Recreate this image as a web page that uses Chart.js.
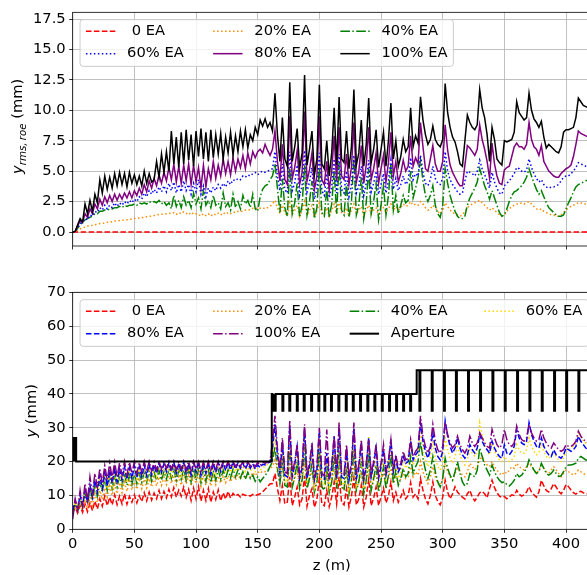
<!DOCTYPE html>
<html>
<head>
<meta charset="utf-8">
<script src="https://cdn.jsdelivr.net/npm/chart.js@4/dist/chart.umd.min.js"></script>
<style>
  html, body { margin: 0; padding: 0; background: #fff; overflow: hidden; }
  #wrap { position: relative; width: 587px; height: 575px; overflow: hidden; }
  canvas { position: absolute; left: 0; }
  #cTop { top: 0; }
  #cBot { top: 280px; }
</style>
</head>
<body>
<div id="wrap">
  <canvas id="cTop" width="600" height="260"></canvas>
  <canvas id="cBot" width="600" height="295"></canvas>
</div>
<script>
// ---------------------------------------------------------------------------
// Data
// ---------------------------------------------------------------------------
// longitudinal sampling positions z (m)
const zGrid = [
  0, 2, 4, 6, 8, 10, 12, 14, 16, 18,
  20, 22, 24, 26, 28, 30, 32, 34, 36, 38,
  40, 42, 44, 46, 48, 50, 52, 54, 56, 58,
  60, 62, 64, 66, 68, 70, 72, 74, 76, 78,
  80, 82, 84, 86, 88, 90, 92, 94, 96, 98,
  100, 102, 104, 106, 108, 110, 112, 114, 116, 118,
  120, 122, 124, 126, 128, 130, 132, 134, 136, 138,
  140, 142, 144, 146, 148, 150, 152, 154, 156, 158,
  160,
  162, 164, 166, 168, 170, 172, 174, 176, 178, 180,
  182, 184, 186, 188, 190, 192, 194, 196, 198, 200,
  202, 204, 206, 208, 210, 212, 214, 216, 218, 220,
  222, 224, 226, 228, 230, 232, 234, 236, 238, 240,
  242, 244, 246, 248, 250, 252, 254, 256, 258, 260,
  262, 264, 266, 268, 270, 272, 274, 276, 278, 280,
  282, 284, 286, 288, 290, 292, 294, 296, 298, 300,
  302, 304, 306, 308, 310, 312, 314, 316, 318, 320,
  322, 324, 326, 328, 330, 332, 334, 336, 338, 340,
  342, 344, 346, 348, 350, 352, 354, 356, 358, 360,
  362, 364, 366, 368, 370, 372, 374, 376, 378, 380,
  382, 384, 386, 388, 390, 392, 394, 396, 398, 400,
  402, 404, 406, 408, 410, 412, 414, 416, 418, 420
];

// rms vertical size (mm), upper panel
const zFlat = [0, 420];
const rms0 = [0, 0];

const rms20 = [
  0, 0.02, 0.15, 0.25, 0.35, 0.4, 0.5, 0.5, 0.55, 0.6,
  0.65, 0.7, 0.7, 0.75, 0.8, 0.8, 0.85, 0.9, 0.9, 0.95,
  0.95, 1.0, 1.0, 1.05, 1.05, 1.1, 1.1, 1.15, 1.2, 1.2,
  1.25, 1.3, 1.3, 1.35, 1.4, 1.45, 1.45, 1.5, 1.5, 1.55,
  1.5, 1.6, 1.45, 1.6, 1.5, 1.65, 1.5, 1.6, 1.4, 1.6,
  1.5, 1.45, 1.3, 1.5, 1.35, 1.5, 1.3, 1.5, 1.4, 1.55,
  1.4, 1.6, 1.45, 1.6, 1.5, 1.65, 1.6, 1.7, 1.65, 1.75,
  1.8, 1.85, 1.8, 1.95, 1.9, 2.0, 1.95, 2.0, 1.9, 2.0,
  2.1,
  2.3, 2.6, 2.0, 1.5, 2.2, 1.6, 1.3, 2.4, 1.5, 1.8,
  2.2, 1.3, 1.8, 2.5, 1.4, 1.8, 2.2, 1.2, 1.7, 2.4,
  1.5, 1.4, 2.0, 1.3, 1.8, 2.3, 1.5, 2.4, 1.6, 1.5,
  2.0, 1.3, 1.8, 2.3, 1.5, 1.8, 2.1, 1.4, 1.8, 2.2,
  1.5, 1.8, 2.0, 1.4, 1.8, 2.0, 1.6, 1.9, 2.3, 1.8,
  2.1, 1.8, 2.0, 2.3, 2.1, 2.2, 2.5, 2.2, 2.3, 2.2,
  2.5, 2.3, 2.0, 1.8, 1.9, 2.2, 2.0, 1.7, 1.5, 1.8,
  2.4, 2.1, 1.8, 1.6, 1.5, 1.4, 1.3, 1.4, 1.7, 2.0,
  2.2, 2.3, 2.4, 2.5, 2.6, 2.4, 2.2, 2.0, 1.8, 2.0,
  1.8, 1.6, 1.4, 1.3, 1.4, 1.7, 1.9, 2.1, 2.2, 2.3,
  2.3, 2.4, 2.3, 2.4, 2.5, 2.3, 2.1, 1.9, 1.8, 1.9,
  1.7, 1.6, 1.5, 1.4, 1.4, 1.3, 1.3, 1.4, 1.6, 1.8,
  2.0, 2.1, 2.2, 2.3, 2.4, 2.4, 2.3, 2.3, 2.3, 2.3
];

const rms40 = [
  0, 0.05, 0.3, 0.6, 0.8, 1.0, 1.1, 1.2, 1.3, 1.5,
  1.5, 1.7, 1.7, 1.8, 1.8, 1.9, 1.9, 2.0, 2.0, 2.1,
  2.0, 2.2, 2.1, 2.2, 2.2, 2.3, 2.2, 2.4, 2.3, 2.4,
  2.3, 2.5, 2.4, 2.5, 2.4, 2.6, 2.3, 2.5, 2.2, 2.4,
  1.9, 3.0, 2.1, 2.6, 2.0, 2.9, 2.2, 2.6, 2.0, 3.2,
  2.3, 2.8, 1.9, 3.4, 2.2, 2.6, 2.0, 3.0, 2.2, 2.4,
  1.9, 3.2, 2.1, 2.4, 1.8, 3.1, 2.0, 2.5, 1.9, 3.0,
  2.3, 2.6, 2.0, 3.1, 1.9, 1.7, 2.9, 3.5, 3.8, 3.9,
  4.3,
  4.6, 5.6, 3.6, 1.6, 4.4, 2.0, 1.3, 5.3, 1.5, 2.4,
  4.0, 1.2, 2.2, 5.5, 1.4, 2.5, 4.2, 1.1, 2.0, 5.3,
  1.6, 1.3, 3.6, 1.2, 2.3, 5.0, 1.5, 5.7, 1.8, 1.4,
  4.0, 1.2, 2.5, 6.0, 1.4, 2.2, 4.5, 1.1, 2.4, 5.2,
  1.5, 2.5, 4.0, 1.0, 2.2, 3.8, 1.4, 3.0, 5.6, 1.8,
  3.0, 1.5, 2.2, 3.0, 2.4, 2.6, 5.0, 2.8, 3.6, 4.5,
  5.9, 4.2, 3.0, 2.5, 3.0, 3.8, 2.2, 1.5, 1.2, 2.2,
  5.2, 4.0, 3.0, 2.3, 1.7, 1.3, 1.1, 1.1, 1.3, 2.2,
  2.8, 3.2, 3.6, 4.1, 5.2, 4.5, 3.8, 3.3, 2.7, 3.4,
  2.8, 2.2, 1.6, 1.3, 1.4, 1.9, 2.5, 3.0, 3.3, 3.4,
  3.6, 3.8, 4.1, 4.5, 5.2, 4.6, 4.0, 3.5, 3.1, 3.4,
  2.9, 2.4, 2.0, 1.8, 1.6, 1.4, 1.3, 1.3, 1.4, 1.9,
  2.4, 2.8, 3.3, 3.7, 3.9, 4.0, 4.1, 4.2, 4.3, 4.4
];

const rms60 = [
  0, 0.05, 0.4, 0.7, 0.8, 1.1, 1.0, 1.4, 1.3, 1.7,
  1.6, 2.0, 1.8, 2.2, 1.9, 2.2, 2.0, 2.4, 2.1, 2.4,
  2.2, 2.5, 2.3, 2.6, 2.4, 2.7, 2.5, 2.9, 2.7, 3.2,
  2.9, 3.4, 3.1, 3.5, 3.2, 3.7, 3.3, 3.8, 3.3, 4.0,
  3.4, 4.1, 3.2, 3.9, 3.3, 4.2, 3.4, 3.9, 3.1, 4.0,
  3.3, 4.3, 3.1, 3.8, 2.9, 3.6, 3.2, 3.7, 3.4, 3.9,
  3.6, 4.0, 3.7, 4.2, 3.9, 4.3, 4.2, 4.4, 4.3, 4.6,
  4.5, 4.7, 4.6, 4.8, 4.9, 4.7, 4.9, 5.0, 4.9, 5.0,
  5.1,
  5.2, 6.6, 4.6, 3.4, 5.6, 3.5, 3.2, 6.6, 3.4, 4.0,
  5.5, 3.0, 3.8, 6.7, 3.3, 4.1, 5.3, 2.7, 3.5, 6.5,
  3.4, 3.0, 4.8, 2.8, 3.7, 6.0, 3.2, 6.4, 3.5, 3.2,
  5.0, 2.9, 3.9, 6.3, 3.2, 3.8, 5.4, 3.0, 4.0, 5.9,
  3.3, 4.0, 5.0, 3.1, 3.9, 4.8, 3.2, 4.2, 5.9, 3.5,
  4.4, 3.4, 3.9, 4.6, 3.9, 4.2, 6.1, 4.3, 4.8, 4.6,
  6.3, 4.9, 4.0, 3.8, 4.3, 5.4, 4.4, 4.0, 3.9, 4.4,
  6.6, 5.0, 4.3, 3.9, 3.6, 3.3, 3.1, 3.2, 4.2, 5.0,
  4.9, 4.8, 4.6, 5.0, 5.9, 5.2, 4.7, 4.2, 3.6, 4.9,
  4.1, 3.6, 3.2, 3.1, 3.8, 4.0, 4.2, 4.5, 4.8, 5.3,
  5.2, 5.0, 4.9, 5.1, 6.0, 5.3, 4.8, 4.4, 4.1, 4.3,
  3.9, 3.7, 3.6, 3.7, 3.7, 3.8, 3.9, 4.2, 4.5, 4.6,
  4.6, 4.8, 5.0, 5.3, 5.7, 5.6, 5.5, 5.4, 5.3, 5.3
];

const rms80 = [
  0, 0.05, 0.5, 0.9, 0.8, 1.5, 1.2, 1.9, 1.5, 2.3,
  1.9, 2.7, 2.2, 2.9, 2.4, 3.0, 2.5, 3.1, 2.6, 3.1,
  2.7, 3.2, 2.8, 3.3, 2.8, 3.4, 3.0, 3.6, 3.1, 3.9,
  3.3, 4.2, 3.6, 4.4, 3.8, 4.7, 4.0, 4.9, 4.2, 5.3,
  4.3, 5.6, 4.1, 5.4, 4.0, 5.5, 4.2, 5.6, 3.9, 5.5,
  4.1, 5.3, 3.6, 5.5, 3.7, 5.2, 4.3, 5.8, 4.4, 5.5,
  4.6, 6.0, 4.8, 5.8, 4.7, 6.1, 5.0, 6.0, 5.3, 6.3,
  5.2, 6.5, 5.6, 6.6, 6.1, 6.6, 6.8, 6.5, 7.2, 6.7,
  6.3,
  6.8, 8.3, 5.8, 4.2, 7.2, 4.3, 3.9, 9.5, 4.4, 5.3,
  6.7, 3.9, 4.9, 9.9, 4.2, 5.1, 6.5, 3.5, 4.6, 9.5,
  4.3, 3.9, 5.8, 3.4, 5.0, 7.9, 4.2, 8.6, 4.6, 4.3,
  6.4, 3.9, 5.3, 9.0, 4.1, 5.0, 7.1, 4.0, 5.5, 8.6,
  4.3, 5.2, 6.5, 4.0, 5.2, 6.3, 4.1, 5.7, 8.2, 4.6,
  5.8, 4.1, 4.8, 5.9, 5.0, 5.4, 7.9, 5.4, 6.1, 5.6,
  9.0, 7.0, 5.2, 5.0, 6.0, 7.1, 5.6, 5.0, 5.0, 5.8,
  8.8, 6.7, 5.5, 4.9, 4.5, 4.1, 3.8, 3.8, 5.5, 7.1,
  6.9, 6.6, 6.3, 6.8, 8.8, 7.6, 6.8, 5.8, 4.4, 7.3,
  5.6, 4.6, 4.0, 3.9, 5.1, 5.3, 5.4, 6.2, 7.0, 7.3,
  7.0, 7.0, 6.8, 7.2, 9.0, 7.6, 7.0, 6.8, 6.3, 7.1,
  5.8, 5.4, 5.0, 4.8, 4.6, 4.5, 4.5, 4.8, 5.0, 5.2,
  5.3, 5.5, 6.2, 7.2, 8.3, 8.1, 8.0, 7.9, 7.8, 7.8
];

const rms100 = [
  0, 0.05, 0.6, 1.1, 0.8, 2.3, 1.5, 2.6, 1.7, 3.1,
  2.4, 4.3, 3.2, 4.6, 3.5, 4.5, 3.6, 4.8, 3.8, 4.9,
  3.9, 4.8, 3.7, 4.9, 4.0, 4.7, 3.9, 4.6, 3.8, 5.0,
  4.0, 4.8, 4.1, 4.3, 5.8, 4.5, 6.4, 4.9, 6.6, 5.0,
  8.3, 5.6, 7.8, 5.3, 8.2, 5.6, 8.4, 5.9, 8.0, 5.4,
  8.3, 6.2, 8.5, 6.0, 8.2, 5.8, 8.4, 6.1, 8.0, 6.4,
  8.1, 6.0, 7.8, 6.5, 8.2, 6.3, 7.9, 6.6, 8.3, 7.0,
  8.4, 6.9, 8.0, 7.5, 8.6, 8.0, 9.2, 8.7, 9.3, 8.6,
  9.0,
  8.3, 11.4, 8.0, 5.8, 9.4, 6.0, 5.4, 12.3, 5.8, 7.0,
  8.5, 5.2, 6.5, 12.9, 5.5, 6.8, 8.3, 4.7, 6.0, 12.1,
  5.6, 5.2, 7.5, 4.6, 6.5, 10.2, 5.5, 11.1, 6.0, 5.7,
  8.3, 5.2, 7.0, 11.7, 5.5, 6.5, 9.2, 5.4, 7.2, 11.0,
  5.7, 6.8, 8.4, 5.3, 6.8, 8.2, 5.4, 7.5, 10.6, 6.0,
  7.5, 5.4, 6.2, 7.6, 6.6, 7.0, 10.2, 7.0, 7.9, 7.3,
  11.1, 9.2, 8.0, 7.2, 7.6, 8.7, 7.6, 7.2, 7.0, 7.6,
  12.2, 9.8, 8.6, 7.8, 7.4, 6.6, 5.6, 5.4, 7.5, 9.6,
  9.0, 8.6, 8.4, 8.8, 11.7, 10.2, 9.4, 8.0, 5.8, 8.6,
  7.6, 6.0, 5.7, 5.5, 7.5, 7.4, 7.5, 7.6, 8.2, 10.7,
  9.8, 9.5, 9.2, 9.4, 11.4, 10.0, 9.3, 9.0, 8.6, 9.1,
  7.8, 6.9, 7.2, 7.0, 6.8, 6.6, 6.5, 7.0, 8.2, 8.4,
  8.4, 8.5, 8.6, 9.4, 11.0, 10.7, 10.4, 10.3, 10.2, 10.1
];

// maximum vertical excursion (mm), lower panel
const max0 = [
  5.0, 6.5, 4.8, 7.0, 5.0, 7.5, 5.2, 7.8, 5.5, 8.3,
  6.0, 9.0, 6.8, 9.8, 7.0, 9.5, 7.2, 10.2, 7.3, 9.8,
  7.5, 10.5, 7.4, 9.7, 8.0, 10.2, 7.8, 9.9, 8.2, 10.8,
  8.4, 11.0, 8.6, 10.7, 9.0, 11.5, 9.0, 11.2, 9.3, 11.8,
  9.6, 12.3, 9.5, 11.6, 9.8, 12.5, 9.4, 11.8, 8.5, 12.2,
  9.0, 12.6, 8.3, 11.5, 8.5, 12.0, 8.0, 11.0, 8.8, 11.6,
  8.4, 10.8, 8.9, 11.2, 9.2, 10.6, 9.8, 10.3, 9.5, 10.4,
  10.0, 10.2, 9.8, 10.3, 10.0, 10.2, 10.5, 11.0, 11.8, 12.6,
  13.4,
  13.5, 16.5, 12.0, 8.5, 13.0, 7.5, 8.0, 15.5, 7.0, 9.5,
  12.5, 7.2, 9.0, 15.8, 6.8, 10.0, 12.0, 6.5, 8.8, 15.0,
  7.5, 7.0, 11.5, 6.7, 9.5, 14.0, 7.5, 15.5, 8.0, 7.2,
  12.0, 6.6, 9.8, 15.2, 7.2, 9.0, 13.0, 6.6, 9.5, 14.8,
  7.0, 9.2, 12.5, 7.0, 9.5, 12.2, 7.8, 9.8, 14.0, 8.5,
  11.0, 8.0, 9.5, 11.5, 9.0, 10.0, 13.8, 9.5, 10.5, 9.0,
  15.0, 11.5, 9.0, 7.5, 10.0, 14.0, 10.0, 8.2, 7.2, 9.5,
  14.5, 11.0, 9.0, 10.5, 12.6, 11.0, 10.2, 9.5, 8.9, 10.5,
  11.5, 9.5, 8.4, 9.5, 10.8, 11.2, 10.5, 9.3, 12.0, 14.5,
  12.3, 10.8, 9.8, 9.4, 9.7, 9.0, 9.5, 10.2, 10.0, 11.5,
  10.4, 9.8, 10.2, 11.0, 12.6, 11.0, 10.2, 9.5, 11.0, 14.5,
  12.8, 11.5, 11.0, 12.0, 13.5, 12.5, 11.2, 10.5, 11.5, 13.2,
  12.6, 11.6, 10.8, 10.4, 11.0, 11.2, 10.8, 10.5, 10.4, 10.5
];

const max20 = [
  5.5, 7.0, 5.0, 7.8, 5.6, 8.8, 6.0, 9.5, 7.0, 10.5,
  8.0, 11.5, 8.8, 12.2, 9.5, 12.8, 10.0, 13.2, 10.5, 13.8,
  10.8, 14.0, 11.2, 14.2, 11.5, 14.0, 11.8, 14.5, 12.0, 14.8,
  12.2, 15.0, 12.5, 15.3, 12.8, 15.5, 13.0, 15.4, 13.2, 15.8,
  13.5, 16.0, 13.2, 15.6, 13.0, 16.2, 13.4, 15.8, 12.8, 16.0,
  13.5, 16.3, 12.7, 15.8, 13.0, 16.0, 12.8, 15.5, 13.2, 15.8,
  13.6, 15.6, 13.8, 15.9, 14.0, 16.0, 14.5, 16.2, 14.8, 16.4,
  15.0, 16.6, 15.4, 16.8, 15.8, 17.0, 16.5, 17.2, 17.0, 17.6,
  18.0,
  18.5, 20.5, 17.0, 14.0, 18.0, 13.5, 13.0, 19.8, 12.8, 15.0,
  17.5, 12.5, 14.5, 19.5, 12.3, 15.0, 17.0, 11.8, 14.0, 19.0,
  12.5, 12.0, 16.0, 11.5, 14.0, 18.0, 12.5, 19.0, 13.0, 12.0,
  16.5, 11.5, 14.5, 19.0, 12.0, 14.0, 17.0, 11.5, 14.2, 18.5,
  12.0, 14.5, 16.5, 12.0, 14.5, 16.5, 12.8, 15.0, 18.0, 13.5,
  16.0, 13.5, 15.0, 16.5, 15.0, 15.5, 18.5, 15.5, 17.0, 16.0,
  20.0, 17.0, 15.0, 13.5, 15.5, 18.5, 15.5, 13.5, 13.0, 15.0,
  19.5, 17.0, 15.5, 14.5, 16.5, 18.0, 17.2, 16.0, 15.5, 17.0,
  19.5, 18.5, 17.6, 18.5, 20.5, 21.5, 20.0, 19.0, 18.5, 20.0,
  18.5, 17.5, 16.5, 16.0, 17.0, 16.5, 17.5, 18.5, 18.0, 19.5,
  18.5, 18.0, 17.5, 18.5, 19.5, 18.5, 17.5, 16.5, 17.5, 19.0,
  18.0, 17.0, 16.5, 17.5, 18.5, 17.5, 16.5, 15.5, 16.5, 17.5,
  17.0, 16.5, 16.0, 16.5, 17.5, 17.0, 16.5, 16.0, 16.0, 16.2
];

const max40 = [
  4.5, 7.5, 5.5, 9.0, 6.5, 10.5, 7.5, 12.0, 8.5, 13.0,
  9.8, 14.0, 11.0, 15.0, 11.5, 15.5, 12.0, 16.0, 12.5, 15.8,
  12.8, 16.5, 13.0, 16.0, 13.2, 16.8, 13.5, 16.5, 13.8, 17.0,
  14.0, 17.2, 14.2, 17.0, 14.5, 17.5, 14.5, 17.2, 14.8, 17.8,
  15.0, 18.0, 14.5, 17.5, 14.8, 18.2, 14.5, 17.8, 14.0, 18.0,
  14.5, 18.3, 13.8, 17.8, 14.2, 18.0, 13.8, 17.5, 14.5, 17.8,
  14.8, 17.5, 15.0, 17.6, 15.2, 17.8, 15.5, 17.5, 15.2, 17.0,
  14.8, 16.8, 15.0, 16.0, 14.2, 15.5, 14.0, 15.0, 15.8, 17.0,
  18.5,
  20.0, 24.5, 18.0, 13.5, 20.5, 13.0, 12.5, 24.0, 12.5, 15.5,
  20.0, 12.0, 14.5, 24.5, 12.0, 15.0, 19.5, 11.0, 14.0, 23.5,
  12.5, 11.5, 18.0, 10.8, 14.0, 22.0, 12.0, 23.0, 12.5, 11.5,
  18.5, 10.5, 14.5, 23.5, 11.5, 14.0, 20.0, 10.5, 14.5, 22.5,
  11.5, 15.0, 19.0, 11.0, 14.5, 18.5, 12.0, 16.0, 22.0, 13.5,
  17.5, 13.0, 15.0, 18.0, 15.5, 16.5, 21.5, 16.5, 18.5, 20.0,
  26.0, 21.0, 17.5, 15.0, 17.5, 21.5, 17.0, 14.0, 12.5, 15.0,
  21.0, 18.0, 16.0, 14.5, 17.0, 20.0, 16.5, 14.0, 12.8, 13.5,
  16.5, 16.0, 15.5, 17.5, 24.0, 21.5, 19.0, 17.5, 16.0, 19.0,
  17.0, 15.5, 14.5, 13.8, 14.0, 13.2, 12.8, 13.5, 14.5, 16.5,
  15.5, 16.0, 17.0, 18.0, 20.5, 19.0, 17.5, 16.5, 17.0, 19.5,
  18.0, 16.5, 16.0, 16.5, 17.5, 16.5, 15.6, 15.8, 17.0, 18.5,
  19.0, 19.0, 19.2, 19.5, 21.0, 21.5, 21.0, 20.5, 20.5, 21.0
];

const max60 = [
  5.0, 8.0, 6.0, 9.5, 7.0, 11.0, 8.0, 12.5, 9.0, 13.8,
  10.5, 15.0, 11.5, 15.8, 12.0, 16.2, 12.8, 16.8, 13.2, 16.5,
  13.5, 17.2, 13.8, 16.8, 14.0, 17.5, 14.2, 17.2, 14.5, 17.8,
  14.8, 18.0, 15.0, 17.8, 15.5, 18.4, 15.8, 18.0, 16.0, 18.6,
  16.0, 18.8, 15.5, 18.2, 15.8, 18.8, 15.5, 18.5, 15.2, 18.8,
  15.8, 19.0, 15.0, 18.5, 15.5, 18.8, 15.2, 18.4, 15.8, 18.8,
  16.2, 18.6, 16.5, 18.8, 16.8, 19.0, 17.0, 18.8, 17.2, 18.5,
  17.0, 18.4, 17.2, 18.2, 17.0, 18.0, 17.5, 18.2, 18.5, 19.2,
  19.8,
  22.0, 27.0, 20.0, 15.0, 23.0, 14.5, 14.0, 27.0, 14.0, 17.5,
  22.5, 13.5, 16.5, 27.5, 13.5, 17.0, 22.0, 12.5, 16.0, 26.5,
  14.0, 13.0, 20.5, 12.5, 16.0, 25.0, 13.5, 26.0, 14.0, 13.0,
  21.0, 12.0, 16.5, 26.0, 13.0, 16.0, 22.5, 12.0, 16.5, 27.5,
  13.5, 17.0, 21.5, 13.0, 16.5, 21.0, 14.0, 18.0, 25.0, 15.5,
  20.0, 15.0, 17.0, 20.5, 18.0, 19.0, 25.5, 19.0, 21.0, 22.0,
  29.0, 24.0, 20.5, 18.5, 21.0, 26.0, 21.0, 18.5, 17.5, 20.0,
  27.0, 23.5, 21.0, 19.5, 21.5, 25.0, 22.0, 20.0, 19.0, 20.5,
  23.5, 22.5, 21.5, 23.0, 31.5, 28.0, 25.0, 23.5, 22.0, 25.5,
  23.0, 21.5, 20.5, 20.0, 21.5, 20.5, 20.0, 20.5, 21.5, 25.0,
  23.5, 22.5, 22.5, 23.5, 27.0, 24.5, 23.0, 22.0, 22.5, 25.5,
  23.0, 21.5, 21.0, 21.5, 23.0, 21.5, 20.5, 20.0, 21.0, 23.0,
  23.5, 24.0, 24.5, 25.5, 28.5, 27.0, 26.0, 25.5, 25.0, 25.0
];

const max80 = [
  5.5, 8.5, 6.0, 10.0, 7.0, 11.5, 8.0, 13.0, 9.5, 14.5,
  11.0, 16.0, 12.0, 16.8, 12.8, 17.5, 13.5, 18.0, 14.0, 17.8,
  14.5, 18.5, 14.8, 18.2, 15.0, 18.8, 15.2, 18.5, 15.5, 19.0,
  15.8, 19.2, 16.0, 19.0, 16.5, 19.5, 16.8, 19.3, 17.0, 19.6,
  17.0, 19.8, 16.5, 19.4, 16.8, 19.8, 16.5, 19.5, 16.0, 19.8,
  16.8, 19.9, 16.0, 19.5, 16.5, 19.8, 16.2, 19.5, 16.8, 19.8,
  17.0, 19.6, 17.3, 19.8, 17.5, 19.9, 17.8, 19.6, 18.0, 19.5,
  17.8, 19.4, 18.0, 19.3, 17.8, 19.0, 18.2, 19.2, 19.0, 19.6,
  19.9,
  24.0, 31.0, 22.0, 16.5, 25.5, 16.0, 15.5, 30.5, 15.5, 19.0,
  24.5, 15.0, 18.0, 29.5, 15.0, 18.5, 24.0, 14.5, 17.5, 29.0,
  15.5, 14.8, 22.5, 14.5, 18.0, 27.5, 15.0, 30.0, 15.5, 15.0,
  23.5, 14.5, 18.5, 30.0, 15.0, 18.0, 25.5, 14.5, 18.5, 27.0,
  15.5, 19.0, 24.0, 15.0, 18.5, 23.5, 16.0, 19.5, 26.5, 17.0,
  21.0, 17.0, 18.5, 21.5, 19.5, 20.0, 26.0, 20.5, 22.0, 23.0,
  31.5, 26.0, 23.0, 21.0, 23.5, 28.5, 24.0, 21.5, 20.5, 23.0,
  32.0, 27.5, 24.5, 22.5, 24.0, 27.0, 24.0, 22.0, 21.0, 22.0,
  25.0, 23.5, 22.5, 24.0, 28.0, 26.0, 24.5, 23.5, 22.5, 26.0,
  24.0, 22.5, 21.5, 21.0, 25.0, 22.5, 22.0, 23.0, 24.5, 29.5,
  27.0, 25.5, 25.0, 26.0, 31.5, 28.0, 26.0, 24.5, 24.0, 27.0,
  24.5, 23.0, 22.0, 21.5, 23.5, 22.0, 21.5, 21.0, 22.0, 24.0,
  23.5, 23.0, 23.5, 24.5, 27.5, 26.0, 25.0, 24.0, 23.5, 23.5
];

const max100 = [
  3.0, 9.0, 5.5, 11.5, 7.0, 13.5, 8.5, 15.5, 10.5, 16.5,
  12.5, 18.0, 13.5, 18.8, 14.5, 19.5, 15.0, 19.8, 15.5, 19.6,
  16.0, 20.0, 16.0, 19.8, 16.5, 20.0, 16.5, 19.8, 16.8, 20.0,
  17.0, 20.0, 17.2, 19.9, 17.5, 20.0, 17.8, 20.0, 18.0, 20.0,
  17.8, 20.0, 17.5, 19.9, 17.8, 20.0, 17.5, 20.0, 17.2, 20.0,
  17.8, 20.0, 17.2, 19.9, 17.5, 20.0, 17.4, 20.0, 17.8, 20.0,
  18.0, 20.0, 18.2, 20.0, 18.4, 20.0, 18.5, 20.0, 18.6, 20.0,
  18.5, 20.0, 18.6, 19.9, 18.5, 19.8, 18.8, 19.9, 19.5, 19.9,
  20.0,
  26.0, 33.5, 24.0, 17.5, 27.0, 17.0, 16.5, 32.0, 16.5, 20.0,
  25.0, 16.0, 19.0, 31.0, 16.0, 19.5, 25.5, 15.5, 18.5, 30.0,
  16.5, 15.8, 29.5, 15.5, 19.0, 27.5, 16.0, 31.5, 16.5, 16.0,
  25.0, 15.5, 19.5, 31.5, 16.0, 19.0, 26.5, 15.5, 19.5, 26.5,
  16.5, 20.0, 25.0, 16.0, 19.5, 25.0, 17.0, 20.5, 26.5, 18.0,
  22.0, 18.0, 19.5, 23.0, 20.5, 21.0, 26.5, 21.5, 23.0, 24.0,
  33.5, 27.5, 24.5, 22.5, 24.5, 31.0, 26.0, 23.5, 22.5, 24.5,
  31.5, 28.0, 25.5, 24.0, 25.0, 27.5, 25.0, 23.5, 22.5, 24.0,
  27.5, 25.5, 24.5, 25.5, 28.5, 27.0, 25.5, 24.5, 24.0, 29.5,
  27.0, 25.0, 24.0, 25.0, 29.5, 26.5, 25.0, 24.5, 25.5, 30.5,
  28.0, 26.5, 26.0, 27.0, 31.0, 28.5, 27.0, 26.0, 26.5, 29.5,
  27.0, 25.5, 24.5, 24.0, 25.5, 24.5, 23.5, 23.0, 23.5, 25.0,
  24.5, 24.5, 25.0, 26.0, 29.0, 27.5, 26.5, 26.0, 25.5, 25.5
];

// beam-pipe aperture (mm): entrance slit, then three plateaus with
// narrow restrictions at the lens positions
const apEntranceZ = [0, 0.8, 1.6, 2.4];
const apEntranceTop = 27;
const apLow = 20;
const apStep1Z = 161.4;
const apMid = 40;
const apDipsMid = [161.8, 162.8, 163.8, 170.0, 175.6, 181.7, 187.3, 193.3, 199.2, 204.0,
                   209.4, 215.4, 221.4, 227.1, 233.0, 238.9, 244.6, 250.6, 256.5, 262.2,
                   267.9, 273.6];
const apStep2Z = 278.9;
const apHigh = 47;
const apDipsHigh = [281.1, 291.1, 301.0, 310.7, 320.5, 330.3, 340.3, 350.3, 360.3, 370.3,
                    380.3, 390.3, 400.1, 410.0];
const apDipFloor = 35;
const apEnd = 420;

// axis ticks
const zTicks = [0, 50, 100, 150, 200, 250, 300, 350, 400];
const rmsTicks = [0, 2.5, 5, 7.5, 10, 12.5, 15, 17.5];
const yTicks = [0, 10, 20, 30, 40, 50, 60, 70];

// ---------------------------------------------------------------------------
// Styling helpers
// ---------------------------------------------------------------------------
const FONT = "'DejaVu Sans', sans-serif";
const FS = 14.7;
const DASH = {
  solid: [],
  dashed: [5.55, 2.4],
  dotted: [1.5, 2.475],
  dashdot: [9.6, 2.4, 1.5, 2.4]
};
const C = {
  red: '#ff0000', orange: '#ff8c00', green: '#008000', gold: '#ffd700',
  blue: '#0000ff', purple: '#800080', black: '#000000'
};

function pts(xs, ys) { return ys.map((y, i) => ({ x: xs[i], y: y })); }

function apertureTrace() {
  const p = [{ x: 0, y: apLow }];
  apEntranceZ.forEach(z => {
    p.push({ x: z, y: apLow }, { x: z, y: apEntranceTop }, { x: z + 0.4, y: apEntranceTop }, { x: z + 0.4, y: apLow });
  });
  p.push({ x: apStep1Z, y: apLow }, { x: apStep1Z, y: apMid });
  const w = 0.8;
  apDipsMid.forEach(z => {
    p.push({ x: z, y: apMid }, { x: z, y: apDipFloor }, { x: z + w, y: apDipFloor }, { x: z + w, y: apMid });
  });
  p.push({ x: apStep2Z, y: apMid }, { x: apStep2Z, y: apHigh });
  apDipsHigh.forEach(z => {
    p.push({ x: z, y: apHigh }, { x: z, y: apDipFloor }, { x: z + w, y: apDipFloor }, { x: z + w, y: apHigh });
  });
  p.push({ x: apEnd, y: apHigh });
  return p;
}

function line(label, data, color, style, width, order) {
  return {
    label: label, data: data, borderColor: color, backgroundColor: color,
    borderWidth: width, borderDash: DASH[style], borderCapStyle: 'butt',
    borderJoinStyle: 'miter', pointRadius: 0, fill: false, tension: 0, order: order,
    _style: style
  };
}

// frame (spines) over the data
const spines = {
  id: 'spines',
  afterDatasetsDraw(chart) {
    const ctx = chart.ctx, a = chart.chartArea;
    ctx.save();
    ctx.strokeStyle = '#000';
    ctx.lineWidth = 0.8;
    ctx.strokeRect(a.left, a.top, a.right - a.left, a.bottom - a.top);
    ctx.restore();
  }
};

// boxed legend laid out in columns
const boxLegend = {
  id: 'boxLegend',
  afterDraw(chart, args, opts) {
    if (!opts || !opts.columns) return;
    const ctx = chart.ctx, a = chart.chartArea;
    ctx.save();
    ctx.font = FS + 'px ' + FONT;
    const pad = 0.4 * FS, hl = 2 * FS, htp = 0.8 * FS, cs = 2 * FS;
    const colW = opts.columns.map(col => hl + htp + Math.max.apply(null, col.map(it => ctx.measureText(it.label).width)));
    const w = 2 * pad + colW.reduce((s, v) => s + v, 0) + cs * (colW.length - 1);
    const h = 46.7;
    const x0 = a.left + 0.5 * FS, y0 = a.top + 0.5 * FS;
    ctx.beginPath();
    ctx.roundRect(x0, y0, w, h, 3);
    ctx.fillStyle = 'rgba(255,255,255,0.8)';
    ctx.fill();
    ctx.strokeStyle = '#cccccc';
    ctx.lineWidth = 1;
    ctx.stroke();
    let cx = x0 + pad;
    opts.columns.forEach((col, ci) => {
      col.forEach((it, ri) => {
        const cy = y0 + 11.7 + ri * 22.3;
        ctx.beginPath();
        ctx.setLineDash(DASH[it.style]);
        ctx.lineCap = 'butt';
        ctx.strokeStyle = it.color;
        ctx.lineWidth = it.width || 1.5;
        ctx.moveTo(cx, cy);
        ctx.lineTo(cx + hl, cy);
        ctx.stroke();
        ctx.setLineDash([]);
        ctx.fillStyle = '#000';
        ctx.textBaseline = 'middle';
        ctx.textAlign = 'left';
        ctx.fillText(it.label, cx + hl + htp, cy);
      });
      cx += colW[ci] + cs;
    });
    ctx.restore();
  }
};

// axis titles (supports an italic symbol with an optional subscript)
const axisTitles = {
  id: 'axisTitles',
  afterDraw(chart, args, opts) {
    const ctx = chart.ctx;
    ctx.save();
    ctx.fillStyle = '#000';
    ctx.textBaseline = 'alphabetic';
    ctx.textAlign = 'left';
    (opts.items || []).forEach(t => {
      const parts = t.parts;
      const widths = parts.map(p => { ctx.font = p.font; return ctx.measureText(p.text).width; });
      const total = widths.reduce((s, v) => s + v, 0);
      ctx.save();
      ctx.translate(t.x, t.y);
      if (t.rotate) ctx.rotate(-Math.PI / 2);
      let x = -total / 2;
      parts.forEach((p, i) => {
        ctx.font = p.font;
        ctx.fillText(p.text, x, p.dy || 0);
        x += widths[i];
      });
      ctx.restore();
    });
    ctx.restore();
  }
};

const gridOpts = { color: '#b0b0b0', lineWidth: 0.8, tickColor: '#000', tickLength: 3.5, tickWidth: 0.8, drawTicks: true };
const tickFont = { family: FONT, size: FS };

// ---------------------------------------------------------------------------
// Upper panel: rms size
// ---------------------------------------------------------------------------
new Chart(document.getElementById('cTop'), {
  type: 'line',
  data: {
    datasets: [
      line(' 0 EA', pts(zFlat, rms0), C.red, 'dashed', 1.5, 6),
      line('20% EA', pts(zGrid, rms20), C.orange, 'dotted', 1.5, 5),
      line('40% EA', pts(zGrid, rms40), C.green, 'dashdot', 1.5, 4),
      line('60% EA', pts(zGrid, rms60), C.blue, 'dotted', 1.5, 3),
      line('80% EA', pts(zGrid, rms80), C.purple, 'solid', 1.5, 2),
      line('100% EA', pts(zGrid, rms100), C.black, 'solid', 1.5, 1)
    ]
  },
  options: {
    responsive: false, animation: false, devicePixelRatio: 1, events: [],
    parsing: false,
    layout: { padding: { left: 0, right: 9.3, top: 6.7, bottom: 0 } },
    scales: {
      x: {
        type: 'linear', min: 0, max: 420,
        afterBuildTicks: s => { s.ticks = zTicks.map(v => ({ value: v })); },
        afterFit: s => { s.height = 14; },
        ticks: { display: false },
        grid: gridOpts, border: { display: false }
      },
      y: {
        type: 'linear', min: -1.15, max: 18.05,
        afterBuildTicks: s => { s.ticks = rmsTicks.map(v => ({ value: v })); },
        afterFit: s => { s.width = 72.7; },
        ticks: { font: tickFont, color: '#000', padding: 3.5, callback: v => Number(v).toFixed(1) },
        grid: gridOpts, border: { display: false }
      }
    },
    plugins: {
      legend: { display: false }, tooltip: { enabled: false },
      boxLegend: {
        columns: [
          [{ label: ' 0 EA', color: C.red, style: 'dashed' }, { label: '60% EA', color: C.blue, style: 'dotted' }],
          [{ label: '20% EA', color: C.orange, style: 'dotted' }, { label: '80% EA', color: C.purple, style: 'solid' }],
          [{ label: '40% EA', color: C.green, style: 'dashdot' }, { label: '100% EA', color: C.black, style: 'solid' }]
        ]
      },
      axisTitles: {
        items: [{
          x: 22, y: 126.35, rotate: true,
          parts: [
            { text: 'y', font: 'italic ' + FS + 'px ' + FONT },
            { text: 'rms,\u2009roe', font: 'italic ' + (FS * 0.7).toFixed(1) + 'px ' + FONT, dy: 3.5 },
            { text: ' (mm)', font: FS + 'px ' + FONT }
          ]
        }]
      }
    }
  },
  plugins: [spines, boxLegend, axisTitles]
});

// ---------------------------------------------------------------------------
// Lower panel: maximum excursion and aperture
// ---------------------------------------------------------------------------
new Chart(document.getElementById('cBot'), {
  type: 'line',
  data: {
    datasets: [
      line(' 0 EA', pts(zGrid, max0), C.red, 'dashed', 1.5, 7),
      line('20% EA', pts(zGrid, max20), C.orange, 'dotted', 1.5, 6),
      line('40% EA', pts(zGrid, max40), C.green, 'dashdot', 1.5, 5),
      line('60% EA', pts(zGrid, max60), C.gold, 'dotted', 1.5, 4),
      line('80% EA', pts(zGrid, max80), C.blue, 'dashed', 1.5, 3),
      line('100% EA', pts(zGrid, max100), C.purple, 'dashdot', 1.5, 2),
      line('Aperture', apertureTrace(), C.black, 'solid', 2, 1)
    ]
  },
  options: {
    responsive: false, animation: false, devicePixelRatio: 1, events: [],
    parsing: false,
    layout: { padding: { left: 0, right: 9.3, top: 12.3, bottom: 0 } },
    scales: {
      x: {
        type: 'linear', min: 0, max: 420,
        afterBuildTicks: s => { s.ticks = zTicks.map(v => ({ value: v })); },
        afterFit: s => { s.height = 45.7; },
        ticks: { font: tickFont, color: '#000', padding: 3, maxRotation: 0, autoSkip: false, callback: v => String(v) },
        grid: gridOpts, border: { display: false }
      },
      y: {
        type: 'linear', min: 0, max: 70,
        afterBuildTicks: s => { s.ticks = yTicks.map(v => ({ value: v })); },
        afterFit: s => { s.width = 72.7; },
        ticks: { font: tickFont, color: '#000', padding: 3.5, callback: v => String(v) },
        grid: gridOpts, border: { display: false }
      }
    },
    plugins: {
      legend: { display: false }, tooltip: { enabled: false },
      boxLegend: {
        columns: [
          [{ label: ' 0 EA', color: C.red, style: 'dashed' }, { label: '80% EA', color: C.blue, style: 'dashed' }],
          [{ label: '20% EA', color: C.orange, style: 'dotted' }, { label: '100% EA', color: C.purple, style: 'dashdot' }],
          [{ label: '40% EA', color: C.green, style: 'dashdot' }, { label: 'Aperture', color: C.black, style: 'solid', width: 2 }],
          [{ label: '60% EA', color: C.gold, style: 'dotted' }]
        ]
      },
      axisTitles: {
        items: [
          {
            x: 36, y: 130.8, rotate: true,
            parts: [
              { text: 'y', font: 'italic ' + FS + 'px ' + FONT },
              { text: ' (mm)', font: FS + 'px ' + FONT }
            ]
          },
          {
            x: 331.7, y: 290, rotate: false,
            parts: [{ text: 'z (m)', font: FS + 'px ' + FONT }]
          }
        ]
      }
    }
  },
  plugins: [spines, boxLegend, axisTitles]
});
</script>
</body>
</html>
